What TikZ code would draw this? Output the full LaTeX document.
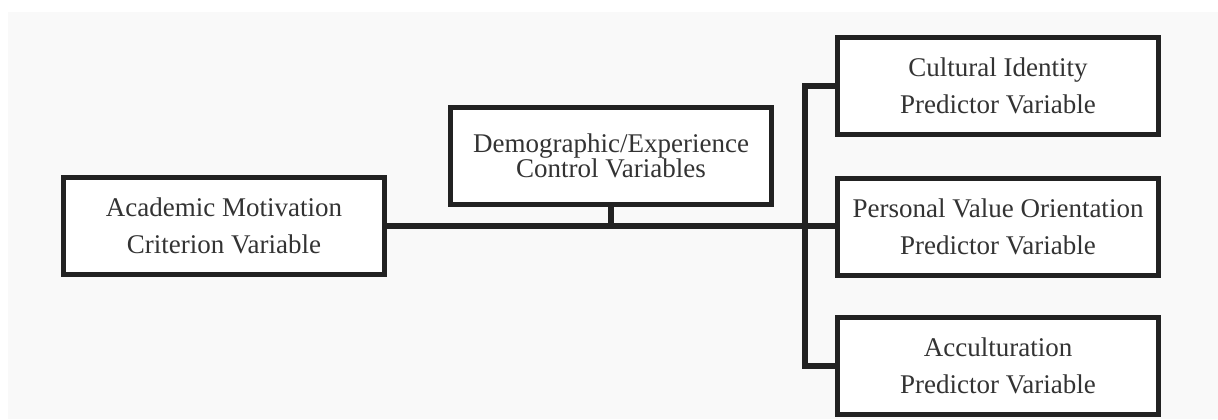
\documentclass[tikz,border=0pt]{standalone}
\usepackage{fontspec}
\setmainfont{Liberation Serif}
\usetikzlibrary{positioning}

\definecolor{paper}{HTML}{F9F9F9}
\definecolor{ink}{HTML}{222222}
\definecolor{txt}{HTML}{333333}

\tikzset{
  varbox/.style={draw=ink, fill=white, line width=2.75pt, align=center,
    minimum width=160.5pt, minimum height=48.5pt, inner sep=0pt,
    text=txt, font=\fontsize{13.5}{18.5}\selectfont},
  tightbox/.style={varbox, font=\fontsize{13.5}{12.5}\selectfont},
  link/.style={draw=ink, line width=3pt}
}

\begin{document}
\begin{tikzpicture}[x=0.5pt,y=-0.5pt]
      \useasboundingbox (0,0) rectangle (1218,419);
      \fill[paper] (8,12) rectangle (1218,419);

      \node[varbox] (acad) at (224,226) {Academic Motivation\\Criterion Variable};
      \node[tightbox] (demo) at (611,156) {Demographic/Experience\\Control Variables};
      \node[varbox] (cult) at (998,86) {Cultural Identity\\Predictor Variable};
      \node[varbox] (pers) at (998,227) {Personal Value Orientation\\Predictor Variable};
      \node[varbox] (accu) at (998,366) {Acculturation\\Predictor Variable};

      \coordinate (bus) at (805,226);

      \draw[link] (acad.east) -- (acad.east -| pers.west);
      \draw[link] (demo.south) -- (demo.south |- acad.east);
      \draw[link] (cult.west) -| (bus) |- (accu.west);
\end{tikzpicture}
\end{document}
